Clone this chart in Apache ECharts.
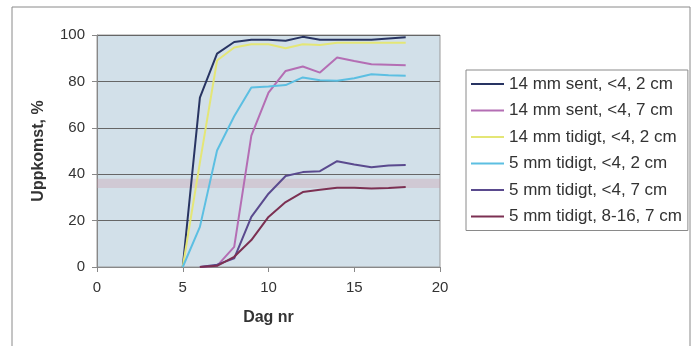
<!DOCTYPE html>
<html style="height: 100%">
<head>
    <meta charset="utf-8">
    <title>Uppkomst per dag</title>
    <script src="https://cdn.jsdelivr.net/npm/echarts@6/dist/echarts.min.js"></script>
</head>
<body style="margin: 0; height: 100%; background: #fff">
    <div id="main" style="width: 696px; height: 346px"></div>
    <script>
        // Dagar (x) och uppkomst i % per serie
        const days = [5, 6, 7, 8, 9, 10, 11, 12, 13, 14, 15, 16, 17, 18];
        const names = [
            '14 mm sent, <4, 2 cm',
            '14 mm sent, <4, 7 cm',
            '14 mm tidigt, <4, 2 cm',
            '5 mm tidigt, <4, 2 cm',
            '5 mm tidigt, <4, 7 cm',
            '5 mm tidigt, 8-16, 7 cm'
        ];
        const sent14_2 = [0, 73, 92, 97, 98, 98, 97.5, 99.2, 98, 98, 98, 98, 98.5, 99];
        const sent14_7 = [null, 0, 0.5, 8.7, 56.6, 75.2, 84.5, 86.4, 83.8, 90.3, 88.8, 87.4, 87.2, 87];
        const tidigt14_2 = [0, 45, 89, 94.6, 96, 96, 94.3, 96, 95.7, 96.7, 96.7, 96.7, 96.7, 96.7];
        const tidigt5_2 = [0, 17.3, 50.2, 65, 77.4, 77.8, 78.4, 81.7, 80.5, 80.3, 81.4, 83.1, 82.7, 82.4];
        const tidigt5_7 = [null, 0, 1, 3.7, 21.6, 31.6, 39.2, 40.9, 41.3, 45.6, 44.2, 43, 43.8, 44];
        const tidigt5_816 = [null, 0, 0.5, 4.4, 11.6, 21.6, 28, 32.3, 33.3, 34.2, 34.2, 33.8, 34, 34.5];
        const colors = ['#283462', '#b46eb4', '#e4e676', '#5cbfe2', '#5a4a8e', '#7c3052'];
        const allValues = [sent14_2, sent14_7, tidigt14_2, tidigt5_2, tidigt5_7, tidigt5_816];

        const font = "'Liberation Sans', Arial, sans-serif";
        const chart = echarts.init(document.getElementById('main'));

        const series = allValues.map((vals, i) => ({
            name: names[i],
            type: 'line',
            symbol: 'none',
            lineStyle: { width: 2, color: colors[i] },
            itemStyle: { color: colors[i] },
            data: days.map((d, k) => [d, vals[k]]),
            z: 3
        }));
        // svag rosa rand från skanningen
        series[0].markArea = {
            silent: true,
            itemStyle: { color: 'rgba(205, 150, 165, 0.3)' },
            data: [[{ yAxis: 34 }, { yAxis: 38 }]]
        };

        chart.setOption({
            animation: false,
            color: colors,
            graphic: [{
                type: 'rect',
                shape: { x: 12, y: 7, width: 678, height: 345 },
                style: { fill: 'none', stroke: '#8a8a8a', lineWidth: 1 },
                z: -1
            }],
            grid: {
                left: 97,
                right: 256,
                top: 35,
                bottom: 79,
                show: true,
                backgroundColor: '#d2e0e9',
                borderColor: '#9a9a9a',
                borderWidth: 1
            },
            legend: {
                orient: 'vertical',
                left: 466,
                top: 70,
                padding: [4, 6, 4, 5],
                icon: 'rect',
                itemWidth: 33,
                itemHeight: 2,
                itemGap: 6.5,
                borderColor: '#8a8a8a',
                borderWidth: 1,
                backgroundColor: '#fff',
                textStyle: { fontFamily: font, fontSize: 17, color: '#333', lineHeight: 20 },
                data: names
            },
            xAxis: {
                type: 'value',
                min: 0,
                max: 20,
                interval: 5,
                name: 'Dag nr',
                nameLocation: 'middle',
                nameGap: 43,
                nameTextStyle: { fontFamily: font, fontSize: 16, fontWeight: 'bold', color: '#333' },
                axisLine: { lineStyle: { color: '#888' } },
                axisTick: { show: true, length: 5, lineStyle: { color: '#888' } },
                axisLabel: { fontFamily: font, fontSize: 15, color: '#333', margin: 13 },
                splitLine: { show: false }
            },
            yAxis: {
                type: 'value',
                min: 0,
                max: 100,
                interval: 20,
                name: 'Uppkomst, %',
                nameLocation: 'middle',
                nameGap: 50,
                nameRotate: 90,
                nameTextStyle: { fontFamily: font, fontSize: 16, fontWeight: 'bold', color: '#333' },
                axisLine: { show: true, lineStyle: { color: '#888' } },
                axisTick: { show: true, length: 5, lineStyle: { color: '#888' } },
                axisLabel: { fontFamily: font, fontSize: 15, color: '#333', margin: 12 },
                splitLine: { lineStyle: { color: '#666', width: 1 } }
            },
            series: series
        });
    </script>
</body>
</html>
